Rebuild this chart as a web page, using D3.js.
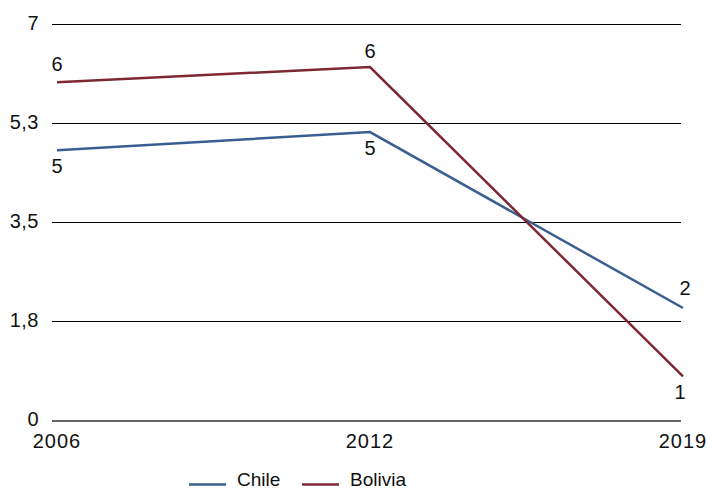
<!DOCTYPE html>
<html><head><meta charset="utf-8">
<script src="https://cdn.jsdelivr.net/npm/d3@7"></script>
<style>body{margin:0;background:#fff}svg{display:block;font-family:"Liberation Sans",Arial,sans-serif}</style>
</head><body>
<svg id="c" width="707" height="491"></svg>
<script>
const years = ["2006", "2012", "2019"];
const chile = [4.77, 5.09, 1.98];
const bolivia = [5.97, 6.24, 0.77];
const yTicks = [0, 1.75, 3.5, 5.25, 7];
const yTickLabels = ["0", "1,8", "3,5", "5,3", "7"];
const seriesNames = ["Chile", "Bolivia"];
const colors = ["#3b5e91", "#7d2832"];

const svg = d3.select("#c");
const x = d3.scalePoint().domain(years).range([57, 683]);
const y = d3.scaleLinear().domain([0, 7]).range([420, 24]);

// gridlines
svg.append("g").selectAll("line").data(yTicks).join("line")
  .attr("x1", 52).attr("x2", 681)
  .attr("y1", d => Math.round(y(d)) + 0.5).attr("y2", d => Math.round(y(d)) + 0.5)
  .attr("stroke", d => d === 0 ? "#666" : "#000")
  .attr("stroke-width", d => d === 0 ? 2 : 1)
  .attr("shape-rendering", "crispEdges");

// y labels
svg.append("g").selectAll("text").data(yTicks).join("text")
  .attr("x", 39).attr("y", d => y(d) - 1).attr("dy", "0.35em")
  .attr("text-anchor", "end").attr("font-size", 20).attr("fill", "#111")
  .style("letter-spacing", "0.5px")
  .text((d, i) => yTickLabels[i]);

// x labels
svg.append("g").selectAll("text").data(years).join("text")
  .attr("x", d => x(d)).attr("y", 448)
  .attr("text-anchor", "middle").attr("font-size", 20).attr("fill", "#111")
  .style("letter-spacing", "1px")
  .text(d => d);

const series = [chile, bolivia];
const line = d3.line().x((d, i) => x(years[i])).y(d => y(d));
series.forEach((s, k) => {
  svg.append("path").datum(s).attr("d", line)
    .attr("fill", "none").attr("stroke", colors[k]).attr("stroke-width", 2.5);
});

// value labels: Chile below except last above; Bolivia above except last below
const offsets = [[16, 16, -20], [-18, -16, 16]];
series.forEach((s, k) => {
  svg.append("g").selectAll("text").data(s).join("text")
    .attr("x", (d, i) => x(years[i]) + (i === 2 ? (k === 0 ? 2 : -3) : 0))
    .attr("y", (d, i) => y(d) + offsets[k][i]).attr("dy", "0.35em")
    .attr("text-anchor", "middle").attr("font-size", 20).attr("fill", "#111")
    .text(d => Math.round(d));
});

// legend
const lg = svg.append("g");
const lx = [189, 302];
seriesNames.forEach((n, k) => {
  lg.append("line").attr("x1", lx[k]).attr("x2", lx[k] + 37)
    .attr("y1", 484.5).attr("y2", 484.5).attr("stroke", colors[k]).attr("stroke-width", 2.5);
  lg.append("text").attr("x", lx[k] + 48).attr("y", 486)
    .attr("font-size", 19).attr("fill", "#111").text(n);
});
</script>
</body></html>
